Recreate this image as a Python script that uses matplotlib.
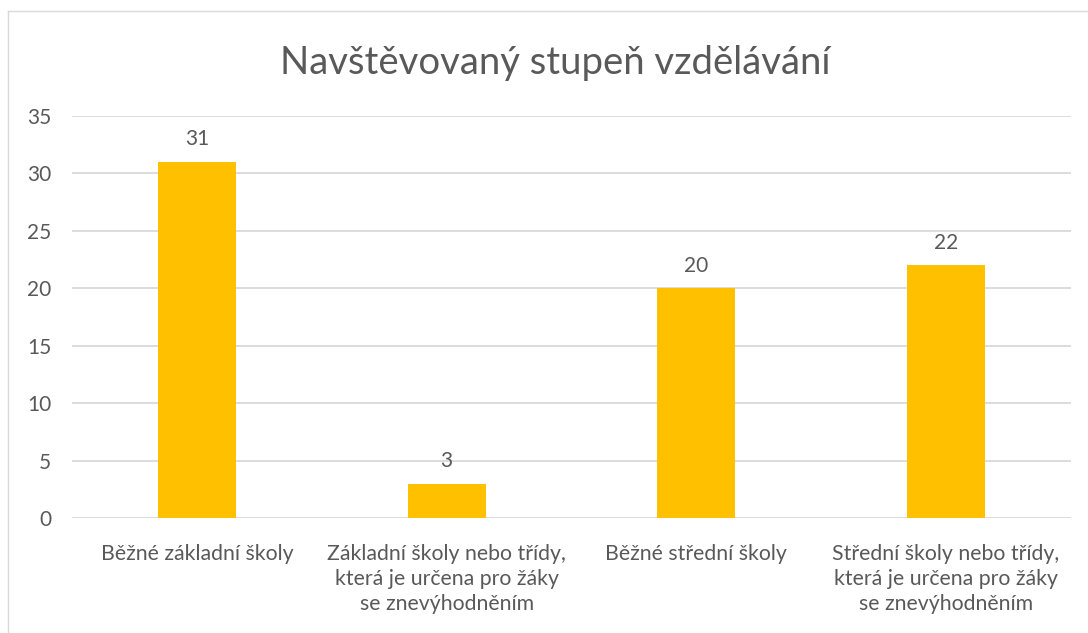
import matplotlib
matplotlib.use("Agg")
import matplotlib.pyplot as plt
from matplotlib.lines import Line2D

plt.rcParams['font.family'] = ['Lato', 'Open Sans', 'DejaVu Sans']

categories = [
    "Běžné základní školy",
    "Základní školy nebo třídy,\nkterá je určena pro žáky\nse znevýhodněním",
    "Běžné střední školy",
    "Střední školy nebo třídy,\nkterá je určena pro žáky\nse znevýhodněním",
]
values = [31, 3, 20, 22]
yticks = [0, 5, 10, 15, 20, 25, 30, 35]
title = "Navštěvovaný stupeň vzdělávání"

txt = "#595959"
fig = plt.figure(figsize=(10.88, 6.33), dpi=100)
ax = fig.add_axes([72/1088, 1-518/633, (1071-72)/1088, (518-116)/633])

x = list(range(len(categories)))
bars = ax.bar(x, values, width=0.313, color="#FFC000", zorder=3)
ax.set_xlim(-0.5, len(categories) - 0.5)
ax.set_ylim(0, 35)
ax.set_yticks(yticks)
ax.set_yticklabels([str(t) for t in yticks])
ax.set_xticks(x)
ax.set_xticklabels(categories, linespacing=1.3)
ax.tick_params(axis='y', length=0, pad=15, labelsize=15, labelcolor=txt)
ax.tick_params(axis='x', length=0, pad=19, labelsize=15.3, labelcolor=txt)
ax.grid(axis='y', color="#D9D9D9", linewidth=1.3, zorder=0)
for s in ax.spines.values():
    s.set_visible(False)

for b, v in zip(bars, values):
    ax.annotate(str(v), (b.get_x() + b.get_width()/2, v), xytext=(0, 9),
                textcoords='offset points', ha='center', va='bottom',
                fontsize=15, color=txt)

fig.text(555/1088, 1-63/633, title, ha='center', va='center', fontsize=27.5, color=txt)

# chart border (left and top)
fig.add_artist(Line2D([8/1088, 8/1088], [0, 1-11/633], transform=fig.transFigure, color="#D9D9D9", lw=1))
fig.add_artist(Line2D([8/1088, 1], [1-11/633, 1-11/633], transform=fig.transFigure, color="#D9D9D9", lw=1))

fig.savefig("out.png", dpi=100)
